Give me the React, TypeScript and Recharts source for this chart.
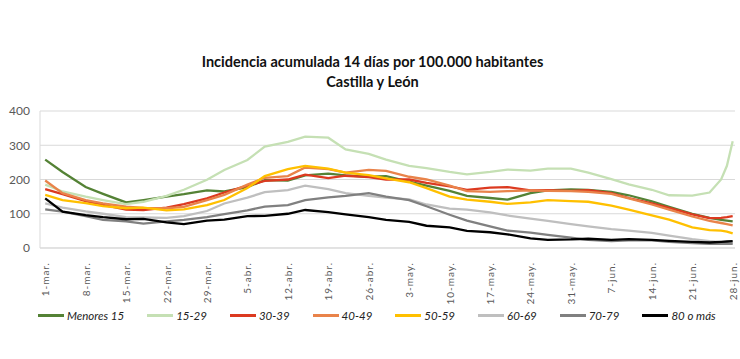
import { CartesianGrid, Line, LineChart, XAxis, YAxis } from "recharts";

// day index from 1-mar (0) to 28-jun (119)
const days = [
  0, 3, 7, 10, 14, 17, 21, 24, 28, 31, 35, 38, 42, 45, 49, 52, 56, 59, 63, 66,
  70, 73, 77, 80, 84, 87, 91, 94, 98, 101, 105, 108, 112, 115, 117, 118, 119,
];

const tickLabels = [
  "1-mar.", "8-mar.", "15-mar.", "22-mar.", "29-mar.", "5-abr.", "12-abr.",
  "19-abr.", "26-abr.", "3-may.", "10-may.", "17-may.", "24-may.", "31-may.",
  "7-jun.", "14-jun.", "21-jun.", "28-jun.",
];

const yTicks = [0, 50, 100, 150, 200, 250, 300, 350, 400];

const menores15 = [
  258, 222, 178, 158, 133, 140, 150, 157, 168, 165, 178, 198, 197, 212, 217,
  212, 208, 210, 194, 182, 167, 152, 146, 141, 160, 168, 171, 170, 164, 154,
  136, 120, 100, 88, 82, 80, 78,
];
const g15_29 = [
  185, 165, 150, 140, 128, 135, 152, 170, 199, 228, 257, 296, 310, 325, 322,
  288, 275, 258, 240, 233, 222, 215, 222, 229, 226, 232, 232, 220, 201, 186,
  170, 154, 153, 162, 200, 240, 312,
];
const g30_39 = [
  172, 157, 137, 126, 112, 111, 118, 128, 145, 162, 182, 196, 200, 214, 204,
  211, 207, 200, 200, 190, 180, 170, 176, 178, 168, 169, 167, 169, 160, 146,
  130, 117, 98, 87, 88, 90, 93,
];
const g40_49 = [
  197, 160, 140, 130, 121, 117, 116, 120, 140, 155, 185, 205, 210, 235, 230,
  220, 228, 225, 208, 200, 182, 166, 164, 166, 168, 167, 166, 164, 158, 145,
  127, 112, 92, 79, 73, 70, 66,
];
const g50_59 = [
  155, 140, 131, 122, 116, 118, 110, 113, 125, 140, 175, 210, 230, 240, 232,
  220, 213, 203, 192, 175, 150, 141, 135, 129, 133, 140, 137, 135, 124, 112,
  95, 83, 60, 52, 51, 48, 43,
];
const g60_69 = [
  130, 118, 107, 100, 90, 89, 88, 93, 108, 130, 147, 163, 169, 182, 172, 160,
  152, 147, 142, 127, 115, 112, 104, 95, 86, 79, 70, 63, 55, 51, 44, 36, 26,
  20, 17, 16, 16,
];
const g70_79 = [
  113, 106, 93, 82, 78, 71, 78, 82, 90, 99, 110, 121, 125, 140, 148, 152, 160,
  150, 140, 122, 97, 80, 63, 51, 45, 38, 30, 24, 20, 22, 22, 18, 14, 12, 12,
  12, 12,
];
const g80 = [
  145, 106, 96, 90, 84, 85, 75, 70, 80, 83, 93, 94, 100, 111, 105, 98, 90, 82,
  76, 65, 60, 50, 46, 40, 28, 24, 25, 27, 24, 26, 24, 21, 18, 16, 18, 19, 20,
];

const series = [
  { key: "m15", name: "Menores 15", color: "#548235", values: menores15 },
  { key: "a15", name: "15-29", color: "#c5e0b4", values: g15_29 },
  { key: "a30", name: "30-39", color: "#dc3a20", values: g30_39 },
  { key: "a40", name: "40-49", color: "#e9834a", values: g40_49 },
  { key: "a50", name: "50-59", color: "#ffc000", values: g50_59 },
  { key: "a60", name: "60-69", color: "#bfbfbf", values: g60_69 },
  { key: "a70", name: "70-79", color: "#808080", values: g70_79 },
  { key: "a80", name: "80 o más", color: "#000000", values: g80 },
];

const rows = days.map((d, i) => {
  const row: Record<string, number> = { day: d };
  series.forEach((s) => (row[s.key] = s.values[i]));
  return row;
});

const tickDays = tickLabels.map((_, i) => i * 7);

const FONT = "Lato, 'Open Sans', sans-serif";

function DateTick({ x, y, payload }: any) {
  const label = tickLabels[Math.round(payload.value / 7)];
  const ty = y + 6;
  return (
    <text
      x={x}
      y={ty}
      transform={`rotate(-90 ${x} ${ty})`}
      textAnchor="end"
      dominantBaseline="central"
      fontSize={10}
      letterSpacing={1}
      fill="#595959"
      fontFamily={FONT}
    >
      {label}
    </text>
  );
}

export default function App() {
  return (
    <div
      style={{
        position: "absolute",
        left: 0,
        top: 0,
        width: 740,
        height: 359,
        background: "#fff",
        fontFamily: FONT,
      }}
    >
      <div
        style={{
          position: "absolute",
          left: 0,
          top: 52,
          width: 745,
          textAlign: "center",
          fontWeight: 700,
          fontSize: 14.5,
          lineHeight: "20px",
          color: "#111",
        }}
      >
        Incidencia acumulada 14 días por 100.000 habitantes
        <br />
        Castilla y León
      </div>

      <LineChart
        width={740}
        height={359}
        data={rows}
        margin={{ top: 111, right: 5, left: 0, bottom: 61 }}
      >
        <CartesianGrid stroke="#d9d9d9" vertical={false} />
        <XAxis
          dataKey="day"
          type="number"
          domain={[-0.9, 119.4]}
          ticks={tickDays}
          interval={0}
          tick={<DateTick />}
          tickLine={false}
          axisLine={{ stroke: "#d9d9d9" }}
          height={50}
        />
        <YAxis
          domain={[0, 400]}
          ticks={yTicks}
          width={40}
          tickSize={0}
          tickMargin={10}
          tickLine={false}
          axisLine={{ stroke: "#d9d9d9" }}
          tick={{ fill: "#595959", fontSize: 12, fontFamily: FONT }}
        />
        <YAxis
          yAxisId="right"
          orientation="right"
          width={0}
          tick={false}
          tickLine={false}
          axisLine={{ stroke: "#d9d9d9" }}
        />
        {series.map((s) => (
          <Line
            key={s.key}
            dataKey={s.key}
            name={s.name}
            type="linear"
            stroke={s.color}
            strokeWidth={2.3}
            dot={false}
            isAnimationActive={false}
          />
        ))}
      </LineChart>

      <div
        style={{
          position: "absolute",
          left: 38,
          top: 309,
          width: "max-content",
          display: "flex",
          gap: 23,
          alignItems: "center",
          fontSize: 11.5,
          fontStyle: "italic",
          color: "#222",
          whiteSpace: "nowrap",
        }}
      >
        {series.map((s) => (
          <div
            key={s.key}
            style={{ display: "flex", alignItems: "center", flexShrink: 0 }}
          >
            <span
              style={{
                display: "inline-block",
                width: 26,
                height: 2.5,
                background: s.color,
                marginRight: 3,
              }}
            />
            <span>{s.name}</span>
          </div>
        ))}
      </div>
    </div>
  );
}
